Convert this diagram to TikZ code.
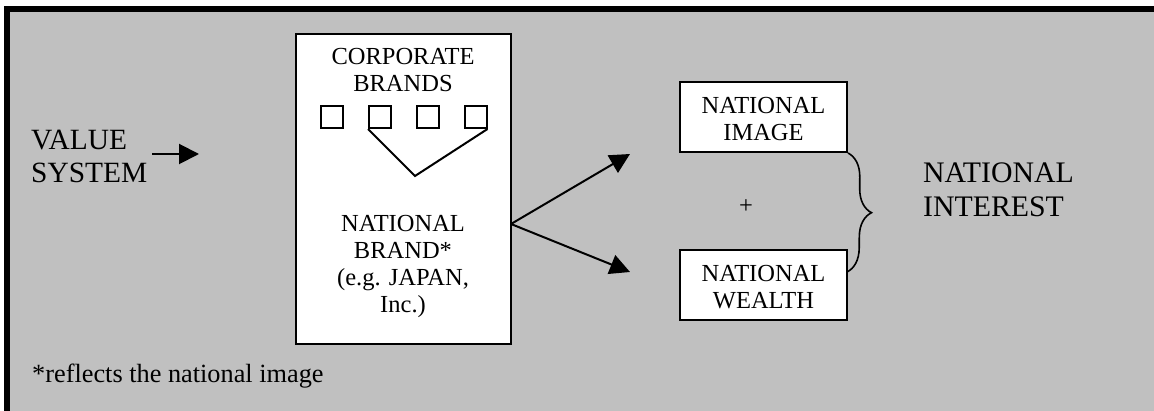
\documentclass[tikz,border=0pt]{standalone}
\usepackage{fontspec}
\setmainfont{Liberation Serif}
\usetikzlibrary{arrows.meta,decorations.pathreplacing}
\definecolor{bggray}{HTML}{C0C0C0}
\begin{document}
\begin{tikzpicture}[x=1pt,y=1pt,
  boxtext/.style={font=\fontsize{24.5}{27.2}\selectfont, align=center, inner sep=0pt, anchor=base},
  bigtext/.style={font=\fontsize{29.4}{33.5}\selectfont, align=left, inner sep=0pt, anchor=base west},
  wbox/.style={draw=black, fill=white, line width=2pt, inner sep=0pt},
  sqbox/.style={draw=black, fill=white, line width=2pt, minimum size=22pt, inner sep=0pt},
  arr/.style={line width=2pt, -{Triangle[length=20pt,width=20pt]}},
  link/.style={line width=2pt},
]
\useasboundingbox (0,0) rectangle (1154,-411);
\clip (0,0) rectangle (1154,-411);
% outer frame
\draw[fill=bggray, line width=6pt] (7,-9) rectangle (1175,-440);
% national brand box
\node[wbox, minimum width=215pt, minimum height=310pt] (brand) at (403.5,-189) {};
\node[boxtext] (corp) at (403,-92) {CORPORATE\\BRANDS};
\node[sqbox] (s1) at (331.5,-117) {};
\node[sqbox] (s2) at (380,-117) {};
\node[sqbox] (s3) at (427.5,-117) {};
\node[sqbox] (s4) at (475.5,-117) {};
\coordinate (apex) at (415,-176);
\draw[link] (s2.south west) -- (apex) -- (s4.south east);
\node[boxtext] (natbrand) at (403,-313) {NATIONAL\\BRAND*\\(e.g. JAPAN,\\Inc.)};
% value system
\node[bigtext] (value) at (31,-183) {VALUE\\SYSTEM};
\coordinate (vsA) at (152,-154);
\coordinate (vsB) at (199,-154);
\draw[arr] (vsA) -- (vsB);
% image and wealth
\node[wbox, minimum width=167pt, minimum height=70pt] (image) at (763.5,-117) {};
\node[boxtext] (imagetext) at (763.5,-141) {NATIONAL\\IMAGE};
\node[wbox, minimum width=167pt, minimum height=70pt] (wealth) at (763.5,-285) {};
\node[boxtext] (wealthtext) at (763.5,-309) {NATIONAL\\WEALTH};
\node[font=\fontsize{24.5}{27.2}\selectfont, inner sep=0pt] (plus) at (746,-207) {+};
% arrows
\coordinate (split) at (511,-224);
\coordinate (tipA) at (630,-154);
\coordinate (tipB) at (630,-272);
\draw[arr] (split) -- (tipA);
\draw[arr] (split) -- (tipB);
% brace
\coordinate (braceA) at (image.south east);
\coordinate (braceB) at (847,-272);
\draw[decorate, decoration={brace, amplitude=24pt}, line width=1.6pt] (braceA) -- (braceB);
\node[font=\fontsize{29.8}{34}\selectfont, align=left, inner sep=0pt, anchor=base west] (interest) at (923,-217) {NATIONAL\\INTEREST};
% footnote
\node[font=\fontsize{26.3}{30}\selectfont, inner sep=0pt, anchor=base west] (foot) at (32,-383) {*reflects the national image};
\end{tikzpicture}
\end{document}
